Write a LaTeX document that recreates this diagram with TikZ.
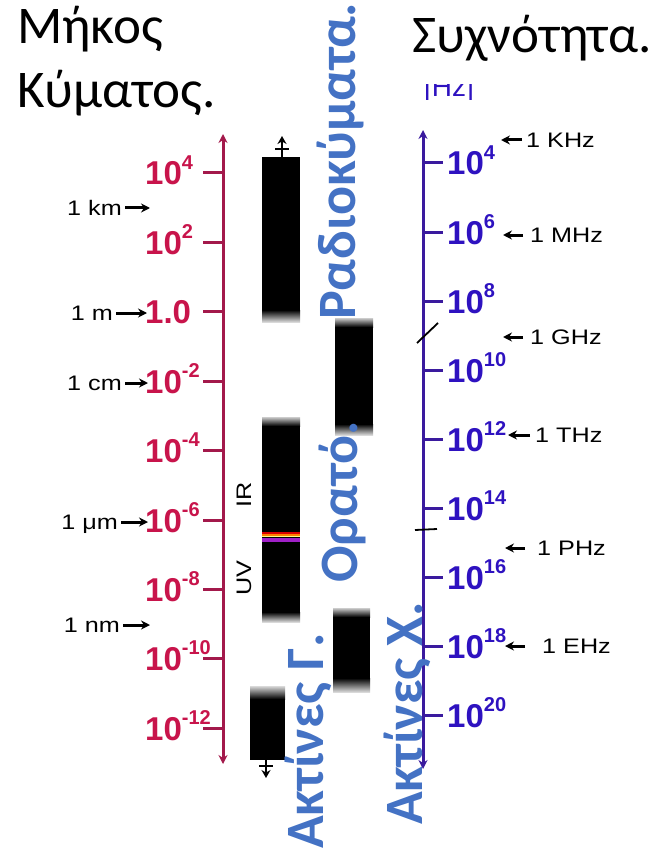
\documentclass[tikz,border=0pt]{standalone}
\usepackage{fontspec}
\setmainfont{Carlito}
\newfontfamily\axisfont{Liberation Sans}
\newfontfamily\unitfont[FakeStretch=1.2]{Liberation Sans}
\usetikzlibrary{arrows.meta}
\definecolor{wavered}{HTML}{C8144B}
\definecolor{waveaxis}{HTML}{A3194B}
\definecolor{freqblue}{HTML}{2E12C0}
\definecolor{freqaxis}{HTML}{3A1A9E}
\definecolor{bandblue}{HTML}{4472C4}
\definecolor{uvviolet}{HTML}{A020C8}
\newcommand\pw[1]{\raisebox{0.48em}{\fontsize{20}{20}\selectfont #1}}

\tikzset{
  titlelbl/.style={anchor=base west, inner sep=0pt, font=\fontsize{53}{53}\selectfont},
  wavelbl/.style={anchor=base west, inner sep=0pt, text=wavered, font=\axisfont\bfseries\fontsize{33}{33}\selectfont},
  freqlbl/.style={anchor=base west, inner sep=0pt, text=freqblue, font=\axisfont\bfseries\fontsize{33}{33}\selectfont},
  unitlbl/.style={inner ysep=0pt, font=\unitfont\fontsize{21}{21}\selectfont},
  unitarr/.style={-{Stealth[length=9pt,width=9pt]}, line width=3pt},
  axistip/.style={{Stealth[length=9pt,width=9pt]}-{Stealth[length=9pt,width=9pt]}},
  bandlbl/.style={anchor=base west, rotate=90, inner sep=0pt, text=bandblue, font=\bfseries\fontsize{54}{54}\selectfont},
  bandbar/.style={fill=black}
}

\begin{document}
\begin{tikzpicture}[x=1pt, y=-1pt]
\useasboundingbox (0,0) rectangle (656,850);

% titles
\node[titlelbl] (wl1) at (17,44) {Μήκος};
\node[titlelbl] (wl2) at (17,108) {Κύματος.};
\node[titlelbl] (fr) at (412,53) {Συχνότητα.};
\begin{scope}
\clip (410,85) rectangle (500,100);
\node[anchor=base west, inner sep=0pt, text=freqblue, font=\axisfont\fontsize{28}{28}\selectfont] (hz) at (424,97) {[Hz]};
\end{scope}

% wavelength axis
\draw[waveaxis, line width=3pt, axistip] (223,764) -- (223,134);
\foreach \i in {0,...,8}
  \draw[waveaxis, line width=3pt] (203,173+69.4*\i) -- (223,173+69.4*\i);
\foreach \lbl [count=\i from 0] in {{10\pw{4}},{10\pw{2}},{1.0},{10\pw{-2}},{10\pw{-4}},{10\pw{-6}},{10\pw{-8}},{10\pw{-10}},{10\pw{-12}}}
  \node[wavelbl] (w\i) at (145,185+69.4*\i) {\lbl};

% frequency axis
\draw[freqaxis, line width=3pt, axistip] (423,769) -- (423,130);
\foreach \i in {0,...,8}
  \draw[freqaxis, line width=3pt] (423,163+69*\i) -- (443,163+69*\i);
\foreach \e [count=\i from 0] in {4,6,8,10,12,14,16,18,20}
  \node[freqlbl] (f\i) at (447,175+69*\i) {10\pw{\e}};
\draw[black, line width=1.8pt] (417,343) -- (438,323);
\draw[black, line width=1.8pt] (415,530) -- (437,529);

% length units
\foreach \nm/\txt/\xr/\y/\xt in {km/1 km/125/208/150, m/1 m/116/313/147, cm/1 cm/125/383/148, um/1 μm/121/522/148, nm/1 nm/123/625/150} {
  \node[unitlbl, anchor=base east, inner xsep=3pt] (\nm) at (\xr,\y+7.5) {\txt};
  \coordinate (\nm tip) at (\xt,\y);
  \draw[unitarr] (\nm.east |- \nm tip) -- (\nm tip);
}

% frequency units
\foreach \nm/\txt/\xl/\y/\xt/\g in {khz/1 KHz/522/140/501/4, mhz/1 MHz/523/235/503/7, ghz/1 GHz/523/337/503/7, thz/1 THz/530/435/508/5, phz/1 PHz/525/548/505/12, ehz/1 EHz/525/646/505/17} {
  \node[unitlbl, anchor=base west, inner xsep=\g pt] (\nm) at (\xl,\y+7.5) {\txt};
  \coordinate (\nm tip) at (\xt,\y);
  \draw[unitarr] (\nm.west |- \nm tip) -- (\nm tip);
}

% radio waves
\fill[bandbar] (262,157) rectangle (300,310);
\shade[top color=black, bottom color=gray!30] (262,310) rectangle (300,322);
\draw[line width=2.4pt, -{Stealth[length=8pt,width=9pt]}] (282,157) -- (282,136);
\draw[line width=2.4pt] (275,149) -- (289,149);

% microwaves
\shade[top color=gray!40, bottom color=black] (335,318) rectangle (373,327);
\fill[bandbar] (335,327) rectangle (373,424);
\shade[top color=black, bottom color=gray!30] (335,424) rectangle (373,435);

% infrared / ultraviolet
\shade[top color=gray!40, bottom color=black] (262,417) rectangle (300,426);
\fill[bandbar] (262,426) rectangle (300,612);
\shade[top color=black, bottom color=gray!30] (262,612) rectangle (300,622);
\fill[red!85!black] (262,531.5) rectangle (300,534);
\fill[orange] (262,534) rectangle (300,535.5);
\fill[yellow!50] (262,535.5) rectangle (300,537);
\fill[uvviolet] (262,537.5) rectangle (300,542);
\node[unitlbl, rotate=90, inner sep=0pt] (ir) at (244,495) {IR};
\node[unitlbl, rotate=90, inner sep=0pt] (uv) at (244,578) {UV};

% x-rays
\shade[top color=gray!40, bottom color=black] (333,608) rectangle (370,617);
\fill[bandbar] (333,617) rectangle (370,678);
\shade[top color=black, bottom color=gray!30] (333,678) rectangle (370,692);

% gamma rays
\shade[top color=gray!30, bottom color=black] (250,686) rectangle (285,699);
\fill[bandbar] (250,699) rectangle (285,760);
\draw[line width=2.4pt, -{Stealth[length=8pt,width=9pt]}] (266,760) -- (266,778);
\draw[line width=2.4pt] (259,766) -- (273,766);

% band names
\node[bandlbl] (radio) at (355,320) {Ραδιοκύματα.};
\node[bandlbl] (vis) at (357,583) {Ορατό.};
\node[bandlbl] (gamma) at (323,849) {Ακτίνες Γ.};
\node[bandlbl] (xray) at (422,825) {Ακτίνες Χ.};
\end{tikzpicture}
\end{document}
